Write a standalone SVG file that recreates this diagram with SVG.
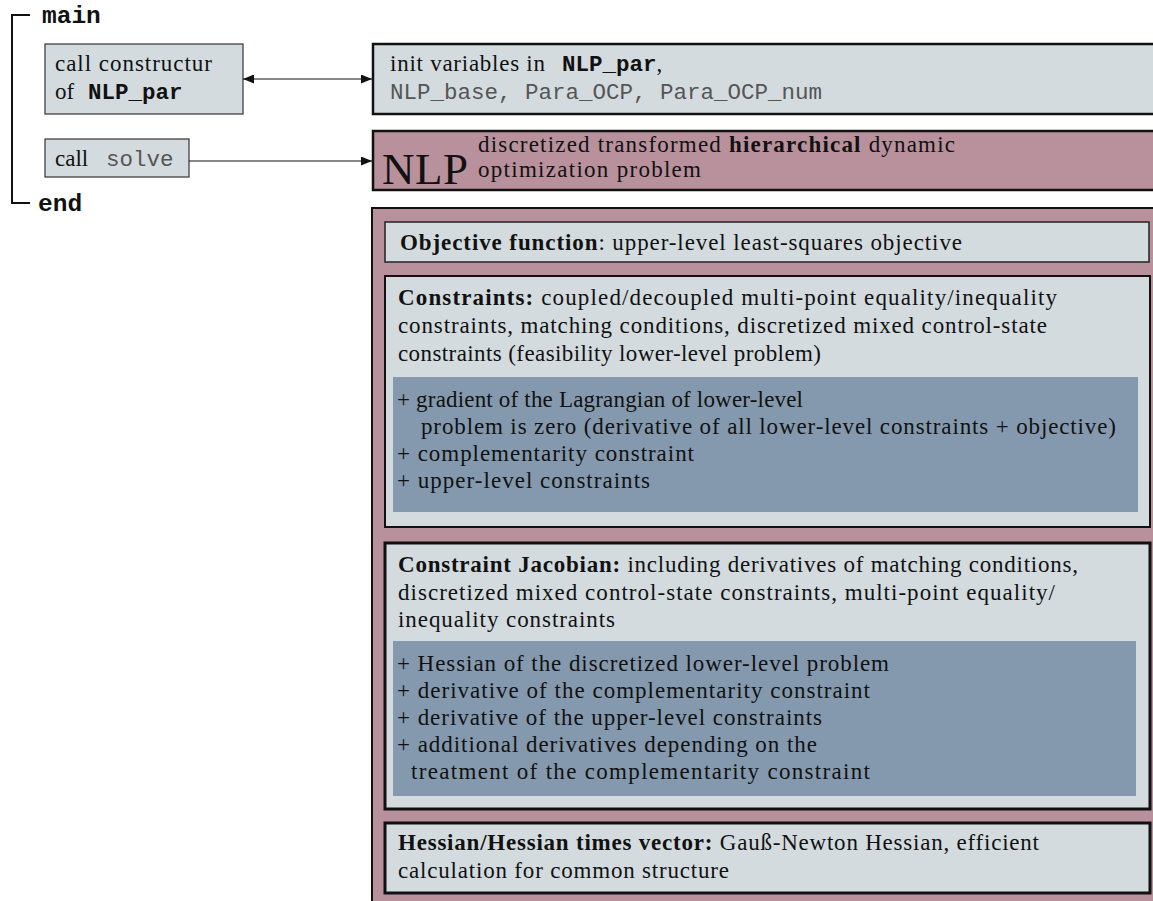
<svg xmlns="http://www.w3.org/2000/svg" width="1153" height="901" viewBox="0 0 1153 901">
  <style>
    .serif { font-family: "Liberation Serif", "DejaVu Serif", serif; font-size: 23px; fill: #111; }
    .b { font-weight: bold; }
    .monob { font-family: "Liberation Mono", "DejaVu Sans Mono", monospace; font-size: 22.5px; font-weight: bold; fill: #111; }
    .kw { font-family: "Liberation Mono", "DejaVu Sans Mono", monospace; font-size: 24.5px; font-weight: bold; fill: #111; }
    .tt { font-family: "Liberation Mono", "DejaVu Sans Mono", monospace; font-size: 22.5px; fill: #555; }
    .light { fill: #d3dbdf; }
    .pink { fill: #b8919c; }
    .dark { fill: #8499ae; }
    .line { stroke: #111; fill: none; }
  </style>
  <defs>
    <marker id="arrow" viewBox="0 0 10 10" refX="10" refY="5" markerWidth="11" markerHeight="9" markerUnits="userSpaceOnUse" orient="auto-start-reverse" preserveAspectRatio="none">
      <path d="M0,0 L10,5 L0,10 z" fill="#111"/>
    </marker>
  </defs>

  <!-- main ... end bracket -->
  <g id="main-bracket">
    <path class="line" stroke-width="2" d="M30,15 H12 V203 H30"/>
    <text x="42" y="23" class="kw">main</text>
    <text x="38" y="211" class="kw">end</text>
  </g>

  <g id="call-constructor">
    <rect x="45" y="44" width="198" height="70" class="light" stroke="#333" stroke-width="1.2"/>
    <text x="55" y="71" class="serif" textLength="157">call constructur</text>
    <text x="55" y="99" class="serif">of <tspan class="monob" x="88">NLP_par</tspan></text>
  </g>

  <g id="call-solve">
    <rect x="45" y="139" width="144" height="38" class="light" stroke="#333" stroke-width="1.2"/>
    <text x="55" y="166" class="serif">call <tspan class="tt" x="106">solve</tspan></text>
  </g>

  <g id="init-vars">
    <rect x="373" y="44" width="790" height="70" class="light" stroke="#111" stroke-width="2.5"/>
    <text x="390" y="71" class="serif"><tspan textLength="155">init variables in</tspan><tspan class="monob" x="562">NLP_par</tspan>,</text>
    <text x="390" y="99" class="tt">NLP_base, Para_OCP, Para_OCP_num</text>
  </g>

  <g id="nlp">
    <rect x="373" y="131" width="790" height="59" class="pink" stroke="#111" stroke-width="2.5"/>
    <text x="382" y="184" class="serif" style="font-size:45px" textLength="86">NLP</text>
    <text x="478" y="152" class="serif" textLength="477">discretized transformed <tspan class="b">hierarchical</tspan> dynamic</text>
    <text x="478" y="177" class="serif" textLength="223">optimization problem</text>
  </g>

  <g id="nlp-details">
    <rect x="372" y="208" width="790" height="700" class="pink" stroke="#111" stroke-width="2"/>

    <g id="objective">
      <rect x="385" y="222" width="764" height="40" class="light" stroke="#222" stroke-width="1.5"/>
      <text x="400" y="250" class="serif" textLength="562"><tspan class="b">Objective function</tspan>: upper-level least-squares objective</text>
    </g>

    <g id="constraints">
      <rect x="385" y="276" width="765" height="251" class="light" stroke="#111" stroke-width="2"/>
      <text x="398" y="305" class="serif" textLength="659"><tspan class="b">Constraints:</tspan> coupled/decoupled multi-point equality/inequality</text>
      <text x="398" y="333" class="serif" textLength="649">constraints, matching conditions, discretized mixed control-state</text>
      <text x="398" y="361" class="serif" textLength="423">constraints (feasibility lower-level problem)</text>
      <rect x="393" y="377" width="745" height="135" class="dark"/>
      <text x="397" y="407" class="serif" textLength="406">+ gradient of the Lagrangian of lower-level</text>
      <text x="421" y="434" class="serif" textLength="695">problem is zero (derivative of all lower-level constraints + objective)</text>
      <text x="397" y="461" class="serif" textLength="297">+ complementarity constraint</text>
      <text x="397" y="488" class="serif" textLength="253">+ upper-level constraints</text>
    </g>

    <g id="jacobian">
      <rect x="385" y="543" width="765" height="266" class="light" stroke="#111" stroke-width="3"/>
      <text x="398" y="572" class="serif" textLength="680"><tspan class="b">Constraint Jacobian:</tspan> including derivatives of matching conditions,</text>
      <text x="398" y="600" class="serif" textLength="657">discretized mixed control-state constraints, multi-point equality/</text>
      <text x="398" y="627" class="serif" textLength="217">inequality constraints</text>
      <rect x="393" y="641" width="743" height="155" class="dark"/>
      <text x="397" y="671" class="serif" textLength="492">+ Hessian of the discretized lower-level problem</text>
      <text x="397" y="698" class="serif" textLength="473">+ derivative of the complementarity constraint</text>
      <text x="397" y="725" class="serif" textLength="425">+ derivative of the upper-level constraints</text>
      <text x="397" y="752" class="serif" textLength="420">+ additional derivatives depending on the</text>
      <text x="411" y="779" class="serif" textLength="459">treatment of the complementarity constraint</text>
    </g>

    <g id="hessian">
      <rect x="385" y="823" width="765" height="70" class="light" stroke="#111" stroke-width="3"/>
      <text x="398" y="850" class="serif" textLength="641"><tspan class="b">Hessian/Hessian times vector:</tspan> Gauß-Newton Hessian, efficient</text>
      <text x="398" y="878" class="serif" textLength="331">calculation for common structure</text>
    </g>
  </g>

  <g id="connectors">
    <line x1="243" y1="79" x2="372" y2="79" stroke="#111" stroke-width="1.2" marker-start="url(#arrow)" marker-end="url(#arrow)"/>
    <line x1="189" y1="161" x2="372" y2="161" stroke="#111" stroke-width="1.2" marker-end="url(#arrow)"/>
  </g>
</svg>
